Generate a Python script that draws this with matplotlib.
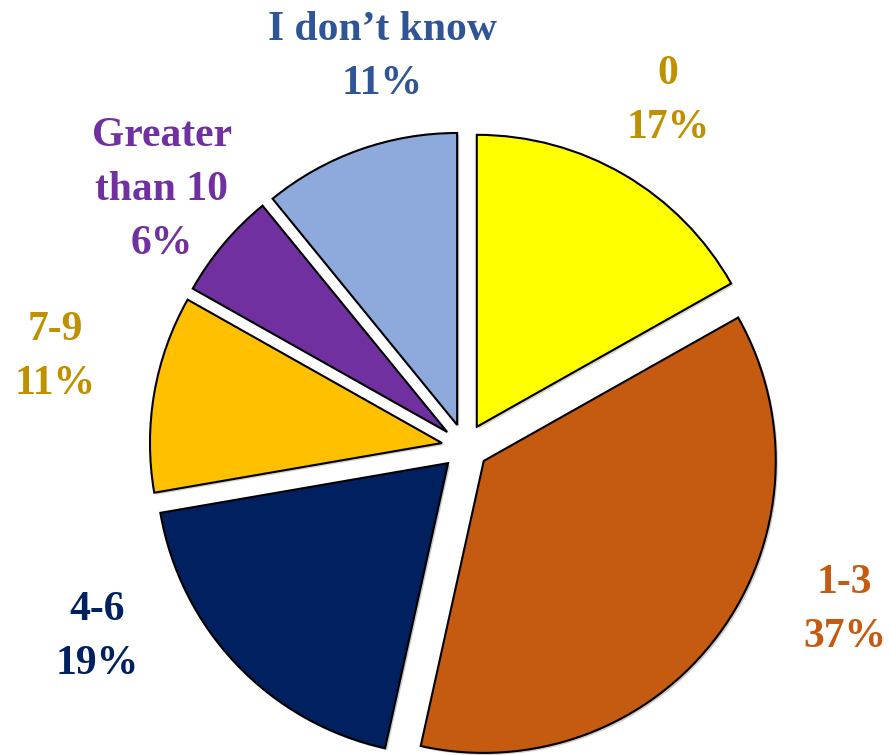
import matplotlib
matplotlib.use("Agg")
import matplotlib.pyplot as plt
import matplotlib.patheffects as pe

# number of occurrences, share of responses
categories = ["0", "1-3", "4-6", "7-9", "Greater\nthan 10", "I don\u2019t know"]
shares = [17, 37, 19, 11, 6, 11]

slice_colors = ["#FFFF00", "#C55A11", "#002060", "#FFC000", "#7030A0", "#8EA9DB"]
label_colors = ["#BF9000", "#C55A11", "#002060", "#BF9000", "#7030A0", "#2F5597"]
# label anchor points in data units (pie radius = 1)
label_xy = [(0.695, 1.185), (1.30, -0.558), (-1.26, -0.651), (-1.404, 0.308), (-1.038, 0.880), (-0.284, 1.336)]

fig = plt.figure(figsize=(8.89, 7.55), dpi=100)
ax = fig.add_axes([0, 0, 1, 1])

wedges, _ = ax.pie(shares, colors=slice_colors, startangle=90, counterclock=False,
                   explode=[0.08] * len(shares), radius=1.0,
                   wedgeprops=dict(edgecolor="black", linewidth=1.5))
for w in wedges:
    w.set_path_effects([pe.SimplePatchShadow(offset=(1.5, -1.5), alpha=0.22), pe.Normal()])

for name, val, col, (x, y) in zip(categories, shares, label_colors, label_xy):
    ax.text(x, y, f"{name}\n{val}%", ha="center", va="center", color=col,
            fontsize=30, fontweight="bold", family=["Liberation Serif", "DejaVu Serif"],
            linespacing=1.55)

# 292 px per unit radius, pie centre at (465, 447) px from top-left
ax.set_aspect("equal")
ax.set_xlim(-465 / 292, (889 - 465) / 292)
ax.set_ylim(-(755 - 447) / 292, 447 / 292)
ax.axis("off")

fig.savefig("out.png", dpi=100)
